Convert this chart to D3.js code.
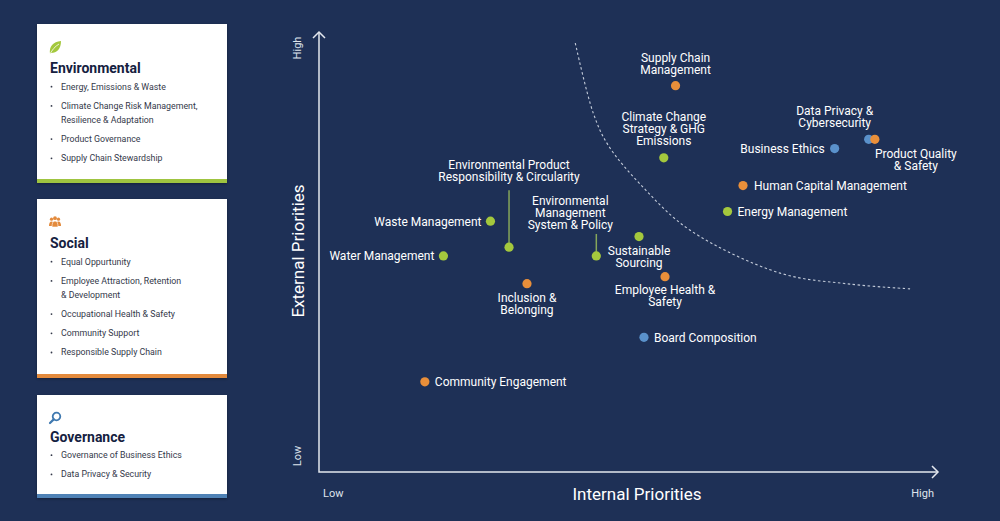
<!DOCTYPE html>
<html lang="en">
<head>
    <meta charset="UTF-8">
    <script src="https://d3js.org/d3.v7.min.js"></script>
    <style>
        body { margin: 0; background: #1e3056; font-family: Roboto, Arial, sans-serif; }
        svg { display: block; }
        .pt-label { fill: #fff; font-size: 12px; }
        .axis-line { stroke: #e3e7ee; stroke-width: 1.5; fill: none; }
        .tick-label { fill: #dfe4ec; font-size: 11px; }
        .axis-title { fill: #fff; font-size: 17px; }
        .card-title { fill: #15213f; font-size: 14px; font-weight: bold; }
        .card-item { fill: #34394a; font-size: 8.8px; }
    </style>
</head>
<body>
    <svg id="chart"></svg>

    <script>
        // topics on the matrix
        const topics = [
            "Supply Chain Management", "Climate Change Strategy & GHG Emissions",
            "Data Privacy & Cybersecurity", "Product Quality & Safety", "Business Ethics",
            "Human Capital Management", "Energy Management",
            "Environmental Product Responsibility & Circularity", "Waste Management",
            "Water Management", "Environmental Management System & Policy",
            "Sustainable Sourcing", "Inclusion & Belonging", "Employee Health & Safety",
            "Board Composition", "Community Engagement"
        ];
        const pillar = [
            "Social", "Environmental", "Governance", "Social", "Governance",
            "Social", "Environmental", "Environmental", "Environmental",
            "Environmental", "Environmental", "Environmental", "Social", "Social",
            "Governance", "Social"
        ];
        // internal priority (x) and external priority (y), 0 = low, 100 = high
        const internalScore = [57.6, 55.7, 88.8, 89.8, 83.3, 68.5, 66.0, 30.7, 27.7, 20.1, 44.8, 51.7, 33.6, 55.9, 52.5, 17.1];
        const externalScore = [87.8, 71.4, 75.6, 75.6, 73.5, 65.1, 59.2, 51.1, 57.0, 49.1, 49.1, 53.5, 42.8, 44.4, 30.6, 20.5];

        // threshold curve
        const curveInternal = [41.4, 44.3, 46.7, 52.3, 59.9, 74.5, 85.8, 95.8];
        const curveExternal = [97.5, 81.6, 74.3, 64.8, 55.0, 45.2, 42.7, 41.6];

        const xTickLabels = ["Low", "High"];
        const yTickLabels = ["Low", "High"];

        // side cards
        const cardTitles = ["Environmental", "Social", "Governance"];
        const cardItems = [
            ["Energy, Emissions & Waste", "Climate Change Risk Management,\nResilience & Adaptation", "Product Governance", "Supply Chain Stewardship"],
            ["Equal Oppurtunity", "Employee Attraction, Retention\n& Development", "Occupational Health & Safety", "Community Support", "Responsible Supply Chain"],
            ["Governance of Business Ethics", "Data Privacy & Security"]
        ];

        const colors = { Environmental: "#a4c83d", Social: "#e98f3a", Governance: "#5a91cb" };
        const barColors = { Environmental: "#9fc440", Social: "#e38a3c", Governance: "#4f82b6" };

        // label placement for each topic (pixels relative to the dot)
        const labelLayout = {
            "Supply Chain Management": { lines: ["Supply Chain", "Management"], anchor: "middle", dx: 0, dy: -24 },
            "Climate Change Strategy & GHG Emissions": { lines: ["Climate Change", "Strategy & GHG", "Emissions"], anchor: "middle", dx: 0, dy: -36.5 },
            "Data Privacy & Cybersecurity": { lines: ["Data Privacy &", "Cybersecurity"], anchor: "middle", dx: -34, dy: -24.5 },
            "Product Quality & Safety": { lines: ["Product Quality", "& Safety"], anchor: "middle", dx: 41, dy: 19 },
            "Business Ethics": { lines: ["Business Ethics"], anchor: "end", dx: -10, dy: 4 },
            "Human Capital Management": { lines: ["Human Capital Management"], anchor: "start", dx: 11, dy: 4.5 },
            "Energy Management": { lines: ["Energy Management"], anchor: "start", dx: 10, dy: 4.5 },
            "Environmental Product Responsibility & Circularity": { lines: ["Environmental Product", "Responsibility & Circularity"], anchor: "middle", dx: 0, dy: -78.5, leader: [-57, -4] },
            "Waste Management": { lines: ["Waste Management"], anchor: "end", dx: -9, dy: 4.5 },
            "Water Management": { lines: ["Water Management"], anchor: "end", dx: -9, dy: 4.5 },
            "Environmental Management System & Policy": { lines: ["Environmental", "Management", "System & Policy"], anchor: "middle", dx: -26, dy: -51, leader: [-22, -4] },
            "Sustainable Sourcing": { lines: ["Sustainable", "Sourcing"], anchor: "middle", dx: 0, dy: 18 },
            "Inclusion & Belonging": { lines: ["Inclusion &", "Belonging"], anchor: "middle", dx: 0, dy: 18.6 },
            "Employee Health & Safety": { lines: ["Employee Health &", "Safety"], anchor: "middle", dx: 0, dy: 17 },
            "Board Composition": { lines: ["Board Composition"], anchor: "start", dx: 10, dy: 4.5 },
            "Community Engagement": { lines: ["Community Engagement"], anchor: "start", dx: 10, dy: 4.5 }
        };

        const width = 1000, height = 521;
        const plot = { left: 319, right: 938, top: 32, bottom: 472 };
        const lineGap = 12;

        const svg = d3.select("#chart")
            .attr("width", width)
            .attr("height", height);

        svg.append("rect")
            .attr("width", width).attr("height", height)
            .attr("fill", "#1e3056");

        const x = d3.scaleLinear().domain([0, 100]).range([plot.left, plot.right]);
        const y = d3.scaleLinear().domain([0, 100]).range([plot.bottom, plot.top]);

        // ---- cards ----
        const cardTops = [24, 199, 395];
        const cardHeights = [159, 179, 103];
        const cardX = 37, cardW = 190;

        const defs = svg.append("defs");
        const shadow = defs.append("filter").attr("id", "shadow").attr("x", "-10%").attr("y", "-10%").attr("width", "120%").attr("height", "120%");
        shadow.append("feDropShadow").attr("dx", 0).attr("dy", 1).attr("stdDeviation", 1.5).attr("flood-color", "#000").attr("flood-opacity", 0.35);

        cardTitles.forEach((title, i) => {
            const g = svg.append("g").attr("transform", `translate(${cardX},${cardTops[i]})`);
            g.append("rect")
                .attr("width", cardW).attr("height", cardHeights[i])
                .attr("fill", "#fff")
                .attr("filter", "url(#shadow)");
            g.append("rect")
                .attr("y", cardHeights[i] - 4)
                .attr("width", cardW).attr("height", 4)
                .attr("fill", barColors[title]);

            // icon
            const icon = g.append("g").attr("transform", "translate(12,17)");
            if (title === "Environmental") {
                icon.append("path")
                    .attr("d", "M1,13 C0,5 4,1 12,0 C12,8 8,12 2,12 Z")
                    .attr("fill", colors.Environmental);
                icon.append("path")
                    .attr("d", "M1,13 C3,9 6,5.5 10,3")
                    .attr("stroke", "#fff").attr("stroke-width", 0.8).attr("fill", "none");
            } else if (title === "Social") {
                const c = "#e38a3c";
                [[2.5, 3.2], [6, 2.2], [9.5, 3.2]].forEach(([cx, cy], k) => {
                    icon.append("circle").attr("cx", cx).attr("cy", cy).attr("r", k === 1 ? 1.9 : 1.6).attr("fill", c);
                });
                icon.append("path").attr("d", "M0,10 Q0,5.5 2.5,5.5 Q5,5.5 5,10 Z").attr("fill", c);
                icon.append("path").attr("d", "M7,10 Q7,5.5 9.5,5.5 Q12,5.5 12,10 Z").attr("fill", c);
                icon.append("path").attr("d", "M3,11 Q3,5 6,5 Q9,5 9,11 Z").attr("fill", c).attr("stroke", "#fff").attr("stroke-width", 0.6);
            } else {
                icon.append("circle").attr("cx", 7.5).attr("cy", 4.5).attr("r", 3.8)
                    .attr("fill", "none").attr("stroke", "#3f79b0").attr("stroke-width", 1.8);
                icon.append("line").attr("x1", 4.7).attr("y1", 7.4).attr("x2", 1).attr("y2", 11)
                    .attr("stroke", "#3f79b0").attr("stroke-width", 2.2).attr("stroke-linecap", "round");
            }

            g.append("text")
                .attr("class", "card-title")
                .attr("x", 13).attr("y", i === 2 ? 47 : 49)
                .text(title);

            let yy = i === 2 ? 63 : 65.5;
            cardItems[i].forEach(item => {
                const lines = item.split("\n");
                g.append("circle").attr("cx", 14.5).attr("cy", yy - 2.8).attr("r", 0.9).attr("fill", "#34394a");
                lines.forEach((ln, k) => {
                    g.append("text")
                        .attr("class", "card-item")
                        .attr("x", 24).attr("y", yy + k * 14)
                        .text(ln);
                });
                yy += 19.2 + (lines.length - 1) * 14;
            });
        });

        // ---- axes ----
        svg.append("path")
            .attr("class", "axis-line")
            .attr("d", `M${x(0)},${y(100) + 1}V${y(0)}H${x(100)}`);
        // arrow heads
        svg.append("path")
            .attr("class", "axis-line")
            .attr("d", `M${x(0) - 6},${y(100) + 6}L${x(0)},${y(100)}L${x(0) + 6},${y(100) + 6}`);
        svg.append("path")
            .attr("class", "axis-line")
            .attr("d", `M${x(100) - 6},${y(0) - 6}L${x(100)},${y(0)}L${x(100) - 6},${y(0) + 6}`);

        svg.append("text").attr("class", "tick-label")
            .attr("x", x(0) + 4).attr("y", 497)
            .text(xTickLabels[0]);
        svg.append("text").attr("class", "tick-label")
            .attr("x", x(100) - 4).attr("y", 497).attr("text-anchor", "end")
            .text(xTickLabels[1]);

        svg.append("text").attr("class", "tick-label")
            .attr("transform", `translate(301,${y(0) - 16}) rotate(-90)`)
            .attr("text-anchor", "middle")
            .text(yTickLabels[0]);
        svg.append("text").attr("class", "tick-label")
            .attr("transform", `translate(301,${y(100) + 16}) rotate(-90)`)
            .attr("text-anchor", "middle")
            .text(yTickLabels[1]);

        svg.append("text").attr("class", "axis-title")
            .attr("x", 637).attr("y", 500)
            .attr("text-anchor", "middle")
            .text("Internal Priorities");
        svg.append("text").attr("class", "axis-title")
            .attr("transform", `translate(304,${251}) rotate(-90)`)
            .attr("text-anchor", "middle")
            .text("External Priorities");

        // ---- threshold curve ----
        const curvePts = curveInternal.map((v, i) => [v, curveExternal[i]]);
        svg.append("path")
            .datum(curvePts)
            .attr("fill", "none")
            .attr("stroke", "#c3cbd9")
            .attr("stroke-width", 1.1)
            .attr("stroke-dasharray", "2.5,2.5")
            .attr("d", d3.line().x(d => x(d[0])).y(d => y(d[1])).curve(d3.curveCatmullRom));

        // ---- points ----
        const data = topics.map((t, i) => ({
            topic: t, pillar: pillar[i], ix: internalScore[i], ex: externalScore[i]
        }));

        const pts = svg.append("g").selectAll("g")
            .data(data)
            .enter()
            .append("g")
            .attr("transform", d => `translate(${x(d.ix)},${y(d.ex)})`);

        pts.each(function (d) {
            const lay = labelLayout[d.topic];
            if (lay.leader) {
                d3.select(this).append("line")
                    .attr("x1", 0).attr("x2", 0)
                    .attr("y1", lay.leader[0]).attr("y2", lay.leader[1])
                    .attr("stroke", "#86a65a").attr("stroke-width", 1.5);
            }
        });

        pts.append("circle")
            .attr("r", 4.6)
            .attr("fill", d => colors[d.pillar]);

        pts.each(function (d) {
            const lay = labelLayout[d.topic];
            const t = d3.select(this).append("text")
                .attr("class", "pt-label")
                .attr("text-anchor", lay.anchor);
            lay.lines.forEach((ln, k) => {
                t.append("tspan")
                    .attr("x", lay.dx)
                    .attr("y", lay.dy + k * lineGap)
                    .text(ln);
            });
        });
    </script>
</body>
</html>
